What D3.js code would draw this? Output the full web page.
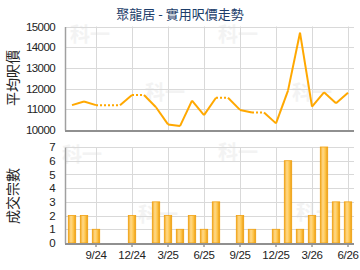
<!DOCTYPE html>
<html lang="zh-Hant">
<head>
<meta charset="UTF-8">
<title>聚龍居</title>
<script src="https://cdn.jsdelivr.net/npm/d3@7"></script>
<style>
  body { margin: 0; background: #fff; }
  svg { display: block; }
</style>
</head>
<body>
<svg width="360" height="270"></svg>
<script>
    const months = ['7/24','8/24','9/24','10/24','11/24','12/24','1/25','2/25','3/25','4/25','5/25','6/25',
                    '7/25','8/25','9/25','10/25','11/25','12/25','1/26','2/26','3/26','4/26','5/26','6/26'];
    const avgPrice = [11200, 11380, 11200, null, null, 11690, null, 11100, 10270, 10190, 11420, 10720,
                      11560, null, 10970, 10850, null, 10320, 11900, 14700, 11130, 11820, 11290, 11800];
    const deals = [2, 2, 1, 0, 0, 2, 0, 3, 2, 1, 2, 1, 3, 0, 2, 1, 0, 1, 6, 1, 2, 7, 3, 3];
    const priceTicks = [10000, 11000, 12000, 13000, 14000, 15000];
    const dealTicks = [0, 1, 2, 3, 4, 5, 6, 7];
    const quarterLabels = ['9/24', '12/24', '3/25', '6/25', '9/25', '12/25', '3/26', '6/26'];

    const svg = d3.select('svg');
    const numFont = '"Liberation Sans", Arial, sans-serif';
    const cjkFont = '"Noto Sans CJK TC", "Noto Sans CJK SC", sans-serif';

    const x = d3.scaleBand().domain(months).range([66, 354]).paddingInner(0.3).paddingOuter(0.15);
    const cx = m => x(m) + x.bandwidth() / 2;
    const yP = d3.scaleLinear().domain([10000, 15000]).range([130, 26.5]);
    const yD = d3.scaleLinear().domain([0, 7]).range([243, 147]);

    // bar gradient
    const grad = svg.append('defs').append('linearGradient').attr('id', 'barGrad')
        .attr('x1', '0%').attr('x2', '100%').attr('y1', '0%').attr('y2', '0%');
    [['0%', '#f2a81e'], ['35%', '#ffd98a'], ['65%', '#ffc850'], ['100%', '#eb9a0c']].forEach(s =>
        grad.append('stop').attr('offset', s[0]).attr('stop-color', s[1]));

    // watermark
    const wm = [[70, 42], [145, 100], [218, 42], [292, 100], [62, 162], [138, 222], [218, 160], [296, 220]];
    svg.append('g').selectAll('text').data(wm).join('text')
        .attr('x', d => d[0]).attr('y', d => d[1])
        .attr('font-family', cjkFont).attr('font-size', 20).attr('font-weight', 'bold')
        .attr('fill', '#f3f3f3').text('科一');

    // grids
    function grid(y, ticks, top, bottom) {
        const g = svg.append('g').attr('stroke', '#d9d9d9').attr('stroke-width', 1);
        g.selectAll('.h').data(ticks).join('line')
            .attr('x1', 66).attr('x2', 354)
            .attr('y1', d => Math.round(y(d)) + 0.5).attr('y2', d => Math.round(y(d)) + 0.5);
        g.selectAll('.v').data(quarterLabels).join('line')
            .attr('x1', d => Math.round(cx(d)) + 0.5).attr('x2', d => Math.round(cx(d)) + 0.5)
            .attr('y1', top).attr('y2', bottom);
    }
    grid(yP, priceTicks, yP(15000), yP(10000));
    grid(yD, dealTicks, yD(7), yD(0));

    // y axes
    function yAxis(y, ticks) {
        const g = svg.append('g').attr('transform', 'translate(65,0)')
            .call(d3.axisLeft(y).tickValues(ticks).tickSize(0).tickPadding(10).tickFormat(d3.format('d')));
        g.select('.domain').attr('stroke', '#a0a0a0').attr('stroke-width', 1.5);
        g.selectAll('text').attr('font-family', numFont).attr('font-size', 11.5)
            .attr('letter-spacing', -0.6).attr('fill', '#222');
    }
    yAxis(yP, priceTicks);
    yAxis(yD, dealTicks);

    // bottom axis line of the price chart
    svg.append('line').attr('x1', 65).attr('x2', 354).attr('y1', 131).attr('y2', 131)
        .attr('stroke', '#909090').attr('stroke-width', 2);

    // bars
    svg.append('g').selectAll('rect').data(months.map((m, i) => ({ m, v: deals[i] })).filter(d => d.v > 0))
        .join('rect')
        .attr('x', d => x(d.m) + 0.5).attr('width', x.bandwidth() - 1)
        .attr('y', d => yD(d.v)).attr('height', d => yD(0) - yD(d.v))
        .attr('fill', 'url(#barGrad)').attr('stroke', '#f0a010').attr('stroke-width', 0.8);

    const xg = svg.append('g').attr('transform', 'translate(0,243)')
        .call(d3.axisBottom(x).tickValues(quarterLabels).tickSize(4).tickPadding(4));
    xg.select('.domain').remove();
    xg.selectAll('line').attr('stroke', '#666');
    xg.selectAll('text').attr('font-family', numFont).attr('font-size', 11.5)
        .attr('letter-spacing', -0.3).attr('fill', '#222');
    svg.append('line').attr('x1', 65).attr('x2', 354).attr('y1', 244).attr('y2', 244)
        .attr('stroke', '#909090').attr('stroke-width', 2);

    // price line: carry value over missing months as dotted segments
    const filled = [];
    avgPrice.forEach((v, i) => filled.push(v != null ? v : filled[i - 1]));
    const line = d3.line().x(d => cx(d.m)).y(d => yP(d.v));
    const lg = svg.append('g').attr('fill', 'none').attr('stroke', '#ffa800').attr('stroke-width', 2)
        .attr('stroke-linejoin', 'round');
    for (let i = 0; i < months.length - 1; i++) {
        const seg = [{ m: months[i], v: filled[i] }, { m: months[i + 1], v: filled[i + 1] }];
        const p = lg.append('path').attr('d', line(seg));
        if (avgPrice[i + 1] == null) p.attr('stroke-dasharray', '2,2');
    }

    // titles
    svg.append('text').attr('x', 180).attr('y', 19).attr('text-anchor', 'middle')
        .attr('font-family', cjkFont).attr('font-size', 13).attr('fill', '#1c3d6a')
        .text('聚龍居 - 實用呎價走勢');
    svg.append('text').attr('transform', 'translate(18,78) rotate(-90)').attr('text-anchor', 'middle')
        .attr('font-family', cjkFont).attr('font-size', 14).attr('fill', '#222').text('平均呎價');
    svg.append('text').attr('transform', 'translate(18,196) rotate(-90)').attr('text-anchor', 'middle')
        .attr('font-family', cjkFont).attr('font-size', 14).attr('fill', '#222').text('成交宗數');
</script>
</body>
</html>
